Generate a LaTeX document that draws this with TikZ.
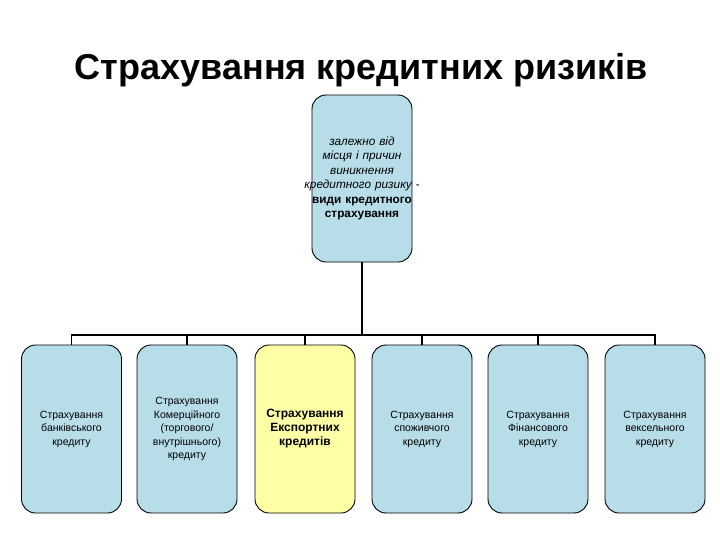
\documentclass[tikz,border=0pt]{standalone}
\usepackage{fontspec}
\setmainfont{Liberation Sans}
\usetikzlibrary{positioning}
\definecolor{kindblue}{HTML}{B7DDE8}
\definecolor{kindyellow}{HTML}{FFFFA6}
\tikzset{
  kindbox/.style={draw=black, line width=0.9pt, rounded corners=14pt, fill=kindblue,
    minimum width=100pt, minimum height=168pt, text width=96pt, align=center,
    inner sep=1pt, font=\fontsize{10.5}{13.5}\selectfont},
  link/.style={line width=1.8pt},
}

\begin{document}
\begin{tikzpicture}[x=1pt,y=-1pt]
  \useasboundingbox[fill=white] (0,0) rectangle (720,540);
  % title
  \node[font=\fontsize{36}{40}\selectfont\bfseries] (title) at (361,70) {Страхування кредитних ризиків};
  % root box (text runs over its sides)
  \node[kindbox, minimum height=167pt, text width=134pt, inner xsep=-17pt,
    font=\fontsize{11.8}{14.5}\selectfont] (root) at (362,178.5)
    {\itshape залежно від\\ місця і причин\\ виникнення\\ кредитного ризику -\\
     \upshape\bfseries види кредитного\\ страхування};
  % kinds of credit insurance
  \node[kindbox] (bank) at (71.5,429) {Страхування\\ банківського\\ кредиту};
  \node[kindbox] (trade) at (187,429) {Страхування\\ Комерційного\\ (торгового/\\ внутрішнього)\\ кредиту};
  \node[kindbox, fill=kindyellow, font=\fontsize{12}{14}\selectfont\bfseries] (export) at (305,429)
    {Страхування\\ Експортних\\ кредитів};
  \node[kindbox] (consumer) at (422,429) {Страхування\\ споживчого\\ кредиту};
  \node[kindbox] (finance) at (538,429) {Страхування\\ Фінансового\\ кредиту};
  \node[kindbox] (bill) at (655,429) {Страхування\\ вексельного\\ кредиту};
  % connectors
  \coordinate (bus) at (362,335);
  \draw[link] (root.south) -- (bus);
  \draw[link] (bank.north) |- (bus) -| (bill.north);
  \foreach \kind in {trade,export,consumer,finance}
    \draw[link] (\kind.north) -- (\kind.north |- bus);
\end{tikzpicture}
\end{document}
